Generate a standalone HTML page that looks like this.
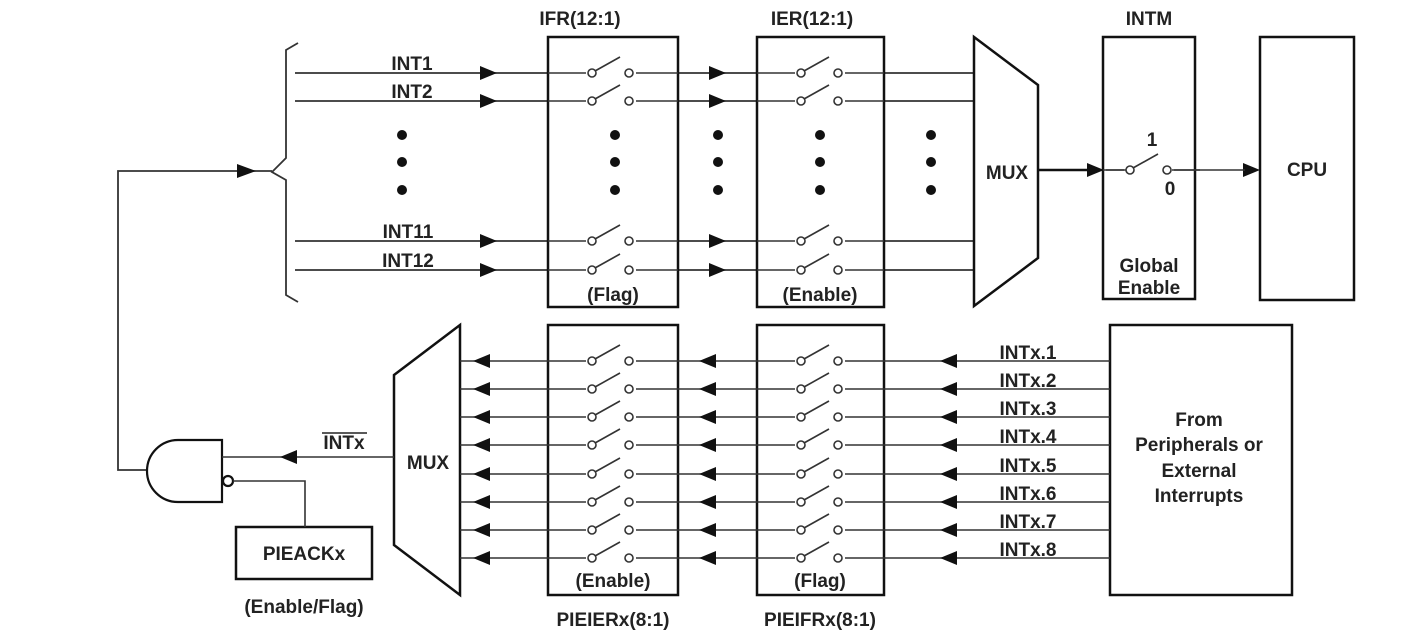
<!DOCTYPE html>
<html><head><style>
html,body{margin:0;padding:0;background:#fff;}
svg{display:block;}
text{font-family:"Liberation Sans",Arial,sans-serif;font-weight:bold;fill:#222;}
</style></head><body>
<svg width="1427" height="639" viewBox="0 0 1427 639" xmlns="http://www.w3.org/2000/svg">
<defs>
<g id="sw"><circle cx="0" cy="0" r="4" fill="#fff" stroke="#333" stroke-width="1.6"/><circle cx="37" cy="0" r="4" fill="#fff" stroke="#333" stroke-width="1.6"/><line x1="3" y1="-2" x2="28" y2="-16" stroke="#333" stroke-width="1.6"/></g>
</defs>
<g stroke="#333" stroke-width="1.8" fill="none">
<line x1="295" y1="73" x2="973" y2="73"/><line x1="295" y1="101" x2="973" y2="101"/>
<line x1="295" y1="241" x2="973" y2="241"/><line x1="295" y1="270" x2="973" y2="270"/>
<path d="M298,43 L286,50 L286,158 L272,172 L286,180 L286,295 L298,302" stroke="#333"/>
<path d="M150,470 L118,470 L118,171 L272,171"/>
</g>
<g fill="#111">
<path d="M480,66L497,73L480,80z"/><path d="M480,94L497,101L480,108z"/><path d="M480,234L497,241L480,248z"/><path d="M480,263L497,270L480,277z"/>
<path d="M709,66L726,73L709,80z"/><path d="M709,94L726,101L709,108z"/><path d="M709,234L726,241L709,248z"/><path d="M709,263L726,270L709,277z"/>
<path d="M237,164L256,171L237,178z"/>
<path d="M1087,163L1104,170L1087,177z"/>
<path d="M1243,163L1260,170L1243,177z"/>
</g>
<g stroke="#111" stroke-width="2.5" fill="#fff">
<rect x="548" y="37" width="130" height="270"/>
<rect x="757" y="37" width="127" height="270"/>
<path d="M974,37 L1038,85 L1038,258 L974,306 z"/>
<rect x="1103" y="37" width="92" height="262"/>
<rect x="1260" y="37" width="94" height="263"/>
<rect x="548" y="325" width="130" height="270"/>
<rect x="757" y="325" width="127" height="270"/>
<rect x="1110" y="325" width="182" height="270"/>
<path d="M460,325 L394,375 L394,545 L460,595 z"/>
<rect x="236" y="527" width="136" height="52"/>
</g>
<g stroke="#333" stroke-width="1.6">
<line x1="548" y1="73" x2="678" y2="73"/><line x1="548" y1="101" x2="678" y2="101"/><line x1="548" y1="241" x2="678" y2="241"/><line x1="548" y1="270" x2="678" y2="270"/>
<line x1="757" y1="73" x2="884" y2="73"/><line x1="757" y1="101" x2="884" y2="101"/><line x1="757" y1="241" x2="884" y2="241"/><line x1="757" y1="270" x2="884" y2="270"/>
<line x1="1038" y1="170" x2="1090" y2="170" stroke="#111" stroke-width="2.5"/>
<line x1="1103" y1="170" x2="1245" y2="170"/>
</g>
<g>
<rect x="586" y="60" width="50" height="20" fill="#fff"/><rect x="586" y="88" width="50" height="20" fill="#fff"/><rect x="586" y="228" width="50" height="20" fill="#fff"/><rect x="586" y="257" width="50" height="20" fill="#fff"/>
<rect x="795" y="60" width="50" height="20" fill="#fff"/><rect x="795" y="88" width="50" height="20" fill="#fff"/><rect x="795" y="228" width="50" height="20" fill="#fff"/><rect x="795" y="257" width="50" height="20" fill="#fff"/>
<rect x="1124" y="155" width="50" height="22" fill="#fff"/>
<use href="#sw" x="592" y="73"/><use href="#sw" x="592" y="101"/><use href="#sw" x="592" y="241"/><use href="#sw" x="592" y="270"/>
<use href="#sw" x="801" y="73"/><use href="#sw" x="801" y="101"/><use href="#sw" x="801" y="241"/><use href="#sw" x="801" y="270"/>
<use href="#sw" x="1130" y="170"/>
<line x1="1106" y1="170" x2="1126" y2="170" stroke="#333" stroke-width="1.6"/>
<line x1="1172" y1="170" x2="1200" y2="170" stroke="#333" stroke-width="1.6"/>
</g>
<g fill="#111">
<circle cx="402" cy="135" r="5"/><circle cx="402" cy="162" r="5"/><circle cx="402" cy="190" r="5"/>
<circle cx="615" cy="135" r="5"/><circle cx="615" cy="162" r="5"/><circle cx="615" cy="190" r="5"/>
<circle cx="718" cy="135" r="5"/><circle cx="718" cy="162" r="5"/><circle cx="718" cy="190" r="5"/>
<circle cx="820" cy="135" r="5"/><circle cx="820" cy="162" r="5"/><circle cx="820" cy="190" r="5"/>
<circle cx="931" cy="135" r="5"/><circle cx="931" cy="162" r="5"/><circle cx="931" cy="190" r="5"/>
</g>
<g>
<g stroke="#333" stroke-width="1.6">
<line x1="460" y1="361" x2="1110" y2="361"/><line x1="460" y1="389" x2="1110" y2="389"/><line x1="460" y1="417" x2="1110" y2="417"/><line x1="460" y1="445" x2="1110" y2="445"/>
<line x1="460" y1="474" x2="1110" y2="474"/><line x1="460" y1="502" x2="1110" y2="502"/><line x1="460" y1="530" x2="1110" y2="530"/><line x1="460" y1="558" x2="1110" y2="558"/>
</g>
<g fill="#fff">
<rect x="586" y="346" width="50" height="20"/><rect x="586" y="374" width="50" height="20"/><rect x="586" y="402" width="50" height="20"/><rect x="586" y="430" width="50" height="20"/><rect x="586" y="459" width="50" height="20"/><rect x="586" y="487" width="50" height="20"/><rect x="586" y="515" width="50" height="20"/><rect x="586" y="543" width="50" height="20"/>
<rect x="795" y="346" width="50" height="20"/><rect x="795" y="374" width="50" height="20"/><rect x="795" y="402" width="50" height="20"/><rect x="795" y="430" width="50" height="20"/><rect x="795" y="459" width="50" height="20"/><rect x="795" y="487" width="50" height="20"/><rect x="795" y="515" width="50" height="20"/><rect x="795" y="543" width="50" height="20"/>
</g>
<use href="#sw" x="592" y="361"/><use href="#sw" x="592" y="389"/><use href="#sw" x="592" y="417"/><use href="#sw" x="592" y="445"/><use href="#sw" x="592" y="474"/><use href="#sw" x="592" y="502"/><use href="#sw" x="592" y="530"/><use href="#sw" x="592" y="558"/>
<use href="#sw" x="801" y="361"/><use href="#sw" x="801" y="389"/><use href="#sw" x="801" y="417"/><use href="#sw" x="801" y="445"/><use href="#sw" x="801" y="474"/><use href="#sw" x="801" y="502"/><use href="#sw" x="801" y="530"/><use href="#sw" x="801" y="558"/>
<g fill="#111">
<path d="M490,354L473,361L490,368z"/><path d="M490,382L473,389L490,396z"/><path d="M490,410L473,417L490,424z"/><path d="M490,438L473,445L490,452z"/><path d="M490,467L473,474L490,481z"/><path d="M490,495L473,502L490,509z"/><path d="M490,523L473,530L490,537z"/><path d="M490,551L473,558L490,565z"/>
<path d="M716,354L699,361L716,368z"/><path d="M716,382L699,389L716,396z"/><path d="M716,410L699,417L716,424z"/><path d="M716,438L699,445L716,452z"/><path d="M716,467L699,474L716,481z"/><path d="M716,495L699,502L716,509z"/><path d="M716,523L699,530L716,537z"/><path d="M716,551L699,558L716,565z"/>
<path d="M957,354L940,361L957,368z"/><path d="M957,382L940,389L957,396z"/><path d="M957,410L940,417L957,424z"/><path d="M957,438L940,445L957,452z"/><path d="M957,467L940,474L957,481z"/><path d="M957,495L940,502L957,509z"/><path d="M957,523L940,530L957,537z"/><path d="M957,551L940,558L957,565z"/>
</g>
</g>
<g stroke="#111" stroke-width="2.2" fill="#fff">
<path d="M222,440 L178,440 A31,31 0 0 0 178,502 L222,502 z"/>
<circle cx="228" cy="481" r="5"/>
</g>
<g stroke="#333" stroke-width="1.6" fill="none">
<line x1="222" y1="457" x2="394" y2="457"/>
<path d="M233,481 L305,481 L305,527"/>
</g>
<path d="M297,450L280,457L297,464z" fill="#111"/>
<g font-size="19" text-anchor="middle">
<text x="580" y="25">IFR(12:1)</text>
<text x="812" y="25">IER(12:1)</text>
<text x="1149" y="25">INTM</text>
<text x="412" y="70">INT1</text><text x="412" y="98">INT2</text>
<text x="408" y="238">INT11</text><text x="408" y="267">INT12</text>
<text x="613" y="301">(Flag)</text><text x="820" y="301">(Enable)</text>
<text x="1007" y="179">MUX</text>
<text x="1152" y="146">1</text><text x="1170" y="195">0</text>
<text x="1149" y="272">Global</text><text x="1149" y="294">Enable</text>
<text x="1307" y="176">CPU</text>
<text x="428" y="469">MUX</text>
<text x="344" y="449">INTx</text>
<text x="304" y="560">PIEACKx</text>
<text x="304" y="613">(Enable/Flag)</text>
<text x="613" y="587">(Enable)</text><text x="820" y="587">(Flag)</text>
<text x="613" y="626">PIEIERx(8:1)</text><text x="820" y="626">PIEIFRx(8:1)</text>
<text x="1028" y="359">INTx.1</text><text x="1028" y="387">INTx.2</text><text x="1028" y="415">INTx.3</text><text x="1028" y="443">INTx.4</text>
<text x="1028" y="472">INTx.5</text><text x="1028" y="500">INTx.6</text><text x="1028" y="528">INTx.7</text><text x="1028" y="556">INTx.8</text>
<text x="1199" y="426">From</text><text x="1199" y="451">Peripherals or</text><text x="1199" y="477">External</text><text x="1199" y="502">Interrupts</text>
</g>
<line x1="322" y1="433" x2="367" y2="433" stroke="#222" stroke-width="1.5"/>
</svg>
</body></html>
